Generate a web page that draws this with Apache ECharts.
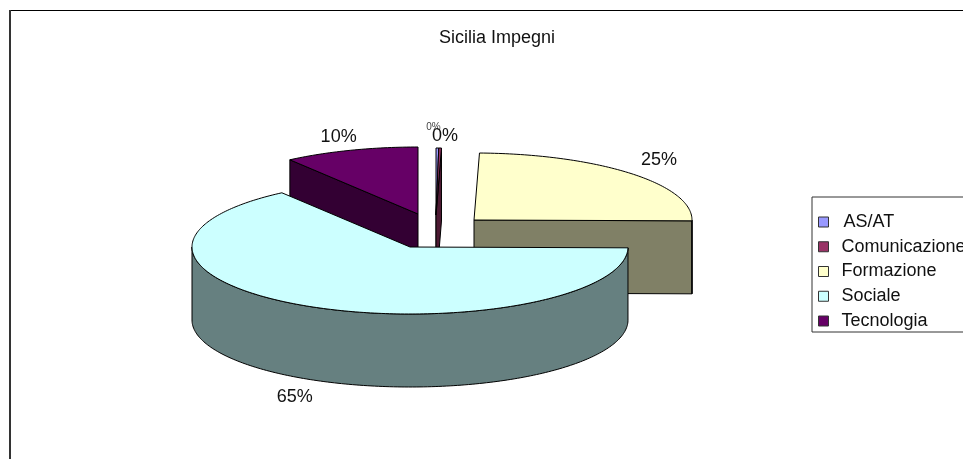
<!DOCTYPE html>
<html>
<head>
<meta charset="utf-8">
<style>html,body{margin:0;padding:0;background:#fff;overflow:hidden}#c{width:963px;height:459px}</style>
<script src="https://cdn.jsdelivr.net/npm/echarts@6/dist/echarts.min.js"></script>
</head>
<body>
<div id="c"></div>
<script>
var titleText = 'Sicilia Impegni';
var categories = ['AS/AT', 'Comunicazione', 'Formazione', 'Sociale', 'Tecnologia'];
var values = [0.2, 0.2, 24.8, 64.8, 10.0];

// styling of the pie
var topColors = ['#9999FF', '#993366', '#FFFFCC', '#CCFFFF', '#660066'];
var wallColors = ['#4D4D80', '#4D1A33', '#808066', '#668080', '#330033'];
var drawOrder = [2, 3, 4, 5, 1];
var apexes = [[436, 215], [436, 215], [474, 220], [410, 247], [418, 214]];
var labelOffsets = [[-4, -21], [5, -12], [28, -13], [-15, 91], [-12, -13]];
var labelSizes = [10, 18, 18, 18, 18];
var radiusX = 218, radiusY = 67, depth = 73;
var FONT = '"Liberation Sans", Arial, sans-serif';

var total = values.reduce(function (a, b) { return a + b; }, 0);

function rim(apex, deg) {
  var t = deg * Math.PI / 180;
  return [apex[0] + radiusX * Math.sin(t), apex[1] - radiusY * Math.cos(t)];
}
function down(p) { return [p[0], p[1] + depth]; }
function arc(apex, from, to) {
  var pts = [], n = Math.max(1, Math.ceil(to - from));
  for (var i = 0; i <= n; i++) pts.push(rim(apex, from + (to - from) * i / n));
  return pts;
}
function face(points, color) {
  return {
    type: 'polygon',
    shape: { points: points },
    style: { fill: color, stroke: '#000', lineWidth: 1, lineJoin: 'round' }
  };
}

function makeRenderer(idx) {
  return function (params, api) {
    var before = 0;
    for (var i = 0; i < idx; i++) before += values[i];
    var start = before / total * 360;
    var end = start + api.value(0) / total * 360;
    var apex = apexes[idx];
    var children = [];
    var sinS = Math.sin(start * Math.PI / 180);
    var sinE = Math.sin(end * Math.PI / 180);
    if (sinS < -1e-6) {
      var a = rim(apex, start);
      children.push(face([apex, a, down(a), down(apex)], wallColors[idx]));
    }
    if (sinE > 1e-6) {
      var b = rim(apex, end);
      children.push(face([apex, b, down(b), down(apex)], wallColors[idx]));
    }
    var wFrom = Math.max(start, 90), wTo = Math.min(end, 270);
    if (wTo > wFrom) {
      var upper = arc(apex, wFrom, wTo);
      children.push(face(upper.concat(upper.map(down).reverse()), wallColors[idx]));
    }
    children.push(face([apex].concat(arc(apex, start, end)), topColors[idx]));
    var mid = rim(apex, (start + end) / 2);
    children.push({
      type: 'text',
      style: {
        text: Math.round(api.value(0) / total * 100) + '%',
        x: mid[0] + labelOffsets[idx][0],
        y: mid[1] + labelOffsets[idx][1],
        fill: idx === 0 ? '#444' : '#111',
        font: labelSizes[idx] + 'px ' + FONT,
        align: 'center',
        verticalAlign: 'middle'
      }
    });
    return { type: 'group', children: children };
  };
}

var series = categories.map(function (name, idx) {
  return {
    type: 'custom',
    name: name,
    coordinateSystem: 'none',
    z: drawOrder[idx],
    silent: true,
    animation: false,
    itemStyle: { color: topColors[idx] },
    data: [[values[idx]]],
    renderItem: makeRenderer(idx)
  };
});

var chart = echarts.init(document.getElementById('c'), null, { renderer: 'canvas' });
chart.setOption({
  animation: false,
  backgroundColor: '#fff',
  title: {
    text: titleText,
    left: 497,
    top: 29,
    textAlign: 'center',
    padding: 0,
    textStyle: { fontFamily: FONT, fontSize: 18, fontWeight: 'normal', color: '#111' }
  },
  tooltip: { show: false },
  legend: {
    data: categories.map(function (name, i) {
      return { name: name, textStyle: { padding: [0, 0, 0, i === 0 ? 10 : 8] } };
    }),
    orient: 'vertical',
    left: 812,
    top: 197,
    padding: [16, 30, 2, 6],
    borderColor: '#333',
    borderWidth: 1,
    itemWidth: 10,
    itemHeight: 10,
    itemGap: 6.75,
    icon: 'rect',
    selectedMode: false,
    itemStyle: { borderColor: '#333', borderWidth: 1 },
    textStyle: { fontFamily: FONT, fontSize: 18, color: '#111' }
  },
  graphic: [
    { type: 'line', silent: true, shape: { x1: 9, y1: 10.5, x2: 963, y2: 10.5 }, style: { stroke: '#000', lineWidth: 1 } },
    { type: 'line', silent: true, shape: { x1: 10, y1: 10, x2: 10, y2: 459 }, style: { stroke: '#333', lineWidth: 2 } }
  ],
  series: series
});
</script>
</body>
</html>
